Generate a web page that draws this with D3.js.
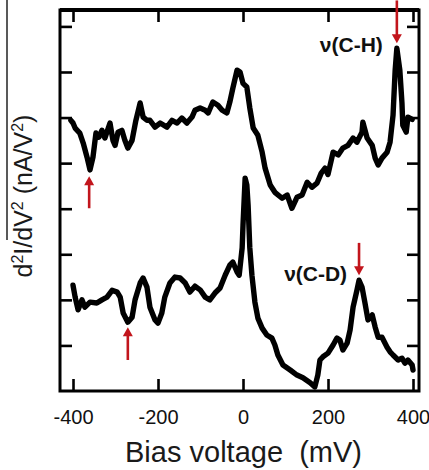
<!DOCTYPE html>
<html><head><meta charset="utf-8">
<script src="https://cdn.jsdelivr.net/npm/d3@7"></script>
<style>
html,body{margin:0;padding:0;background:#fff;}
svg{display:block;font-family:"Liberation Sans",Arial,sans-serif;}
</style>
</head><body>
<svg id="chart" width="429" height="470"></svg>
<script>
// ---- data (bias voltage in mV, d2I/dV2 in arbitrary offset units) ----
const chVoltage = [-405,-400,-395,-384,-376,-367,-360,-353,-346,-339,-332,-325,-313,-306,-301,-294,-285,-278,-271,-261,-252,-242,-235,-226,-219,-207,-195,-179,-167,-155,-144,-132,-120,-113,-101,-89,-82,-71,-59,-49,-38,-31,-24,-14,-7,0,9,16,24,35,45,52,64,75,92,104,115,127,139,151,162,174,184,193,200,212,224,235,247,259,268,280,282,292,304,311,318,327,339,346,353,358,362,369,374,376,384,388,398];
const chSignal  = [5.94,5.88,5.77,5.66,5.44,5.13,4.85,5.13,5.66,5.57,5.72,5.55,5.88,5.50,5.39,5.68,5.72,5.50,5.33,5.50,5.94,6.32,6.01,5.94,5.94,5.79,5.88,5.79,5.94,5.88,5.99,5.88,6.01,6.16,6.21,6.16,6.10,6.34,6.27,6.16,6.10,6.34,6.64,7.04,7.00,6.75,6.67,6.21,5.77,5.61,5.24,4.89,4.52,4.36,4.23,4.30,4.01,4.25,4.30,4.58,4.47,4.56,4.78,4.89,4.75,5.24,5.18,5.33,5.39,5.55,5.46,5.68,5.90,5.55,5.39,5.11,4.96,5.11,5.24,5.46,6.05,7.04,7.52,7.04,6.32,5.83,5.68,6.01,5.96];

const cdVoltage = [-400,-395,-388,-379,-372,-360,-344,-332,-320,-308,-296,-289,-282,-271,-261,-254,-242,-235,-226,-219,-207,-200,-191,-184,-172,-160,-148,-136,-125,-113,-101,-89,-78,-66,-54,-42,-31,-24,-14,-9,-2,0,5,9,12,16,21,28,35,45,56,68,75,82,94,111,127,141,158,169,176,181,188,200,212,221,228,235,245,252,259,268,273,280,287,294,304,311,318,327,339,346,353,365,374,381,388,398,400];
const cdSignal  = [2.32,2.06,1.78,2.00,1.84,1.95,1.93,2.00,2.06,2.21,2.17,2.06,1.71,1.51,1.62,2.00,2.37,2.48,2.28,1.84,1.56,1.49,1.71,2.06,2.37,2.50,2.48,2.37,2.17,2.30,2.22,2.06,2.00,2.15,2.26,2.54,2.76,2.83,2.61,2.54,3.14,3.64,4.67,4.52,4.08,3.14,2.54,1.95,1.60,1.38,1.23,1.16,1.01,0.79,0.57,0.46,0.35,0.29,0.18,0.09,0.35,0.68,0.75,0.83,1.01,1.16,1.12,0.90,1.05,1.34,1.84,2.21,2.43,2.28,1.93,1.56,1.67,1.40,1.18,1.18,0.96,0.86,0.79,0.68,0.72,0.61,0.68,0.57,0.46];

const xTicks = [-400,-200,0,200,400];
const yTicks = [1,2,3,4,5,6,7,8];

// annotation arrows: voltage, tail value, tip value
const arrowVoltage = [-362,-271,362,273];
const arrowTail    = [4.01,0.68,8.57,3.25];
const arrowTip     = [4.71,1.40,7.63,2.54];

const peakLabels  = ["ν(C-H)","ν(C-D)"];
const peakLabelX  = [329,245];
const peakLabelY  = [7.43,2.41];

const xTitle = "Bias voltage\u00a0\u00a0(mV)";

// ---- drawing ----
const svg = d3.select("#chart");
const mL = 60, mR = 419, mT = 10, mB = 391;
const x = d3.scaleLinear().domain([-430.6, 414.1]).range([mL, mR]);
const y = d3.scaleLinear().domain([0, 8.36]).range([mB, mT]);
const red = "#c2151c";

// curves
const line = d3.line().x(d => x(d[0])).y(d => y(d[1]));
[[chVoltage, chSignal],[cdVoltage, cdSignal]].forEach(([vx, vy]) => {
  svg.append("path")
    .datum(d3.zip(vx, vy))
    .attr("d", line)
    .attr("fill", "none")
    .attr("stroke", "#000")
    .attr("stroke-width", 5.4)
    .attr("stroke-linejoin", "round")
    .attr("stroke-linecap", "round");
});

// axes (inward ticks on all four sides)
const tickLen = 12;
const axB = svg.append("g").attr("transform", `translate(0,${mB})`)
  .call(d3.axisBottom(x).tickValues(xTicks).tickSizeInner(-tickLen).tickSizeOuter(0).tickPadding(19));
const axT = svg.append("g").attr("transform", `translate(0,${mT})`)
  .call(d3.axisTop(x).tickValues(xTicks).tickSizeInner(-tickLen).tickSizeOuter(0).tickFormat(""));
const axL = svg.append("g").attr("transform", `translate(${mL},0)`)
  .call(d3.axisLeft(y).tickValues(yTicks).tickSizeInner(-tickLen).tickSizeOuter(0).tickFormat(""));
const axR = svg.append("g").attr("transform", `translate(${mR},0)`)
  .call(d3.axisRight(y).tickValues(yTicks).tickSizeInner(-tickLen).tickSizeOuter(0).tickFormat(""));
[axB, axT, axL, axR].forEach(g => {
  g.select(".domain").remove();
  g.selectAll(".tick line").attr("stroke", "#000").attr("stroke-width", 2.6);
});
axB.selectAll(".tick text")
  .attr("font-size", 20)
  .attr("fill", "#111")
  .attr("font-family", "'Liberation Sans', Arial, sans-serif")
  .text(d => d < 0 ? "-" + Math.abs(d) : d);

// frame
svg.append("rect")
  .attr("x", mL).attr("y", mT)
  .attr("width", mR - mL).attr("height", mB - mT)
  .attr("fill", "none").attr("stroke", "#000").attr("stroke-width", 3);
svg.append("line")
  .attr("x1", mL).attr("x2", mR).attr("y1", mT).attr("y2", mT)
  .attr("stroke", "#000").attr("stroke-width", 4);

// x title
svg.append("text")
  .attr("x", 243.5).attr("y", 462)
  .attr("text-anchor", "middle")
  .attr("font-size", 29)
  .attr("fill", "#1a1a1a")
  .text(xTitle);

// y title
const yt = svg.append("text")
  .attr("transform", "translate(32,196) rotate(-90)")
  .attr("text-anchor", "middle")
  .attr("font-size", 25)
  .attr("fill", "#1a1a1a");
yt.append("tspan").text("d");
yt.append("tspan").attr("font-size", 16).attr("dy", -9).text("2");
yt.append("tspan").attr("dy", 9).text("I/dV");
yt.append("tspan").attr("font-size", 16).attr("dy", -9).text("2");
yt.append("tspan").attr("dy", 9).text(" (nA/V");
yt.append("tspan").attr("font-size", 16).attr("dy", -9).text("2");
yt.append("tspan").attr("dy", 9).text(")");

// thin rule at far left
svg.append("line")
  .attr("x1", 7).attr("x2", 7).attr("y1", 0).attr("y2", 240)
  .attr("stroke", "#222").attr("stroke-width", 1.5);

// arrows
arrowVoltage.forEach((v, i) => {
  const ax = x(v), y0 = y(arrowTail[i]), y1 = y(arrowTip[i]);
  const dir = y1 < y0 ? -1 : 1; // -1 up, +1 down
  const head = 9, hw = 5;
  svg.append("line")
    .attr("x1", ax).attr("x2", ax)
    .attr("y1", y0).attr("y2", y1 - dir * head * 0.6)
    .attr("stroke", red).attr("stroke-width", 2.6);
  svg.append("path")
    .attr("d", `M${ax},${y1} L${ax - hw},${y1 - dir * head} L${ax + hw},${y1 - dir * head} Z`)
    .attr("fill", red);
});

// peak labels
peakLabels.forEach((t, i) => {
  svg.append("text")
    .attr("x", x(peakLabelX[i])).attr("y", y(peakLabelY[i]))
    .attr("text-anchor", "end")
    .attr("font-size", 21)
    .attr("font-weight", "bold")
    .attr("fill", "#111")
    .attr("font-family", "'Liberation Sans', Arial, sans-serif")
    .text(t);
});
</script>
</body></html>
